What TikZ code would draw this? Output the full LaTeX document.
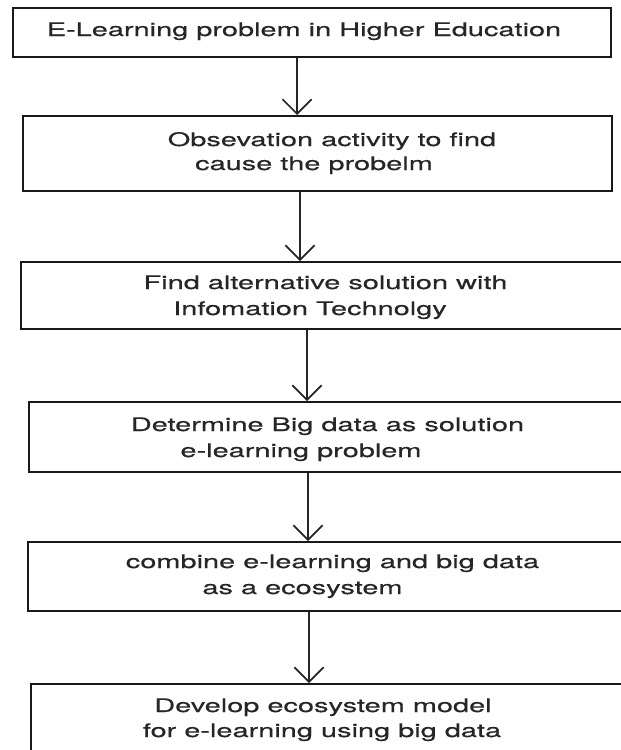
\documentclass[tikz,border=0pt]{standalone}
\usepackage{fontspec}
\setmainfont{TeX Gyre Heros}[FakeStretch=1.55,FakeBold=0.4]
\usetikzlibrary{arrows.meta}
\begin{document}
\begin{tikzpicture}[x=0.75pt,y=-0.75pt,
  boxst/.style={draw=black!90, line width=1.5pt, rectangle, anchor=north west, inner sep=0pt, fill=none},
  txt/.style={anchor=base, inner sep=0pt, font=\fontsize{14pt}{16pt}\selectfont, text=black!85},
  arr/.style={draw=black!85, line width=1.2pt, -{Straight Barb[length=11pt, width=22pt, line width=1.2pt]}}]
\useasboundingbox (0,0) rectangle (621,750);
\fill[white] (0,0) rectangle (621,750);
\begin{scope}
\clip (0,0) rectangle (621,750);
\node[boxst, minimum width=448.5pt, minimum height=36.75pt] (b1) at (12,7) {};
\node[boxst, minimum width=441.75pt, minimum height=56.25pt] (b2) at (22,115) {};
\node[boxst, minimum width=453.75pt, minimum height=50.25pt] (b3) at (20,261) {};
\node[boxst, minimum width=447.75pt, minimum height=52.5pt] (b4) at (28,401) {};
\node[boxst, minimum width=448.5pt, minimum height=51.75pt] (b5) at (27,541) {};
\node[boxst, minimum width=446.25pt, minimum height=60pt] (b6) at (30,683) {};
\end{scope}

\node[txt] (t1) at (304,36) {E-Learning problem in Higher Education};
\node[txt] (t2a) at (332,146) {Obsevation activity to find};
\node[txt] (t2b) at (314,170) {cause the probelm};
\node[txt] (t3a) at (325.5,289) {Find alternative solution with};
\node[txt] (t3b) at (310,315) {Infomation Technolgy};
\node[txt] (t4a) at (327.5,431) {Determine Big data as solution};
\node[txt] (t4b) at (301,457) {e-learning problem};
\node[txt] (t5a) at (332.5,568) {combine e-learning and big data};
\node[txt] (t5b) at (302.5,594) {as a ecosystem};
\node[txt] (t6a) at (323,712) {Develop ecosystem model};
\node[txt] (t6b) at (322,737) {for e-learning using big data};

\coordinate (x1) at (297,0);
\coordinate (x2) at (300,0);
\coordinate (x3) at (307,0);
\coordinate (x4) at (308,0);
\coordinate (x5) at (309,0);
\draw[arr] (b1.south -| x1) -- (b2.north -| x1);
\draw[arr] (b2.south -| x2) -- (b3.north -| x2);
\draw[arr] (b3.south -| x3) -- (b4.north -| x3);
\draw[arr] (b4.south -| x4) -- (b5.north -| x4);
\draw[arr] (b5.south -| x5) -- (b6.north -| x5);
\end{tikzpicture}
\end{document}
